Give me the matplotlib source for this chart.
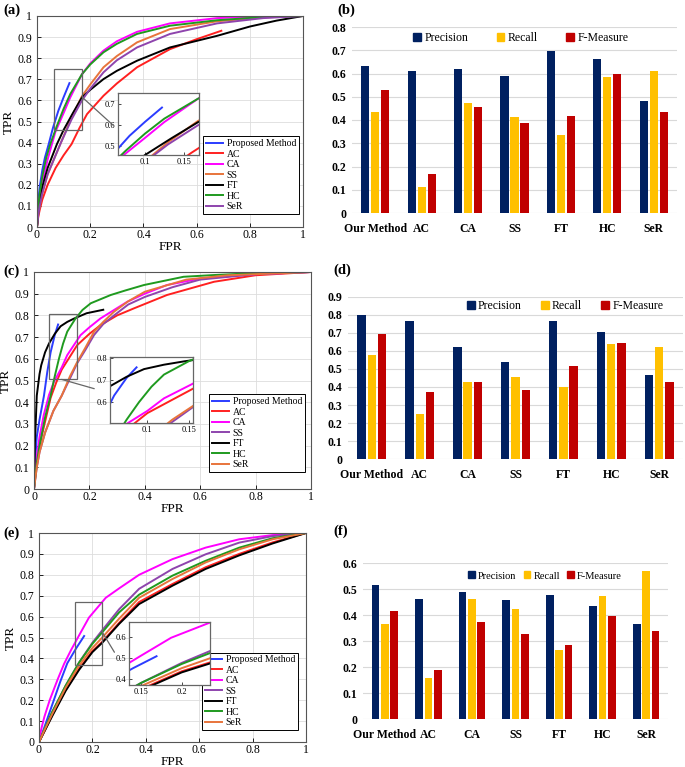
import matplotlib.pyplot as plt
from matplotlib.patches import Rectangle, Patch, ConnectionPatch

plt.rcParams['font.family'] = ['Liberation Serif', 'DejaVu Serif']

# ---------------- ROC data (fpr, tpr) ----------------
roc_names = ['Proposed Method', 'AC', 'CA', 'SS', 'FT', 'HC', 'SeR']

# (a)
a_prop = [(0, 0), (0.005, 0.12), (0.01, 0.19), (0.02, 0.27), (0.03, 0.33), (0.044, 0.393),
          (0.06, 0.47), (0.08, 0.55), (0.1, 0.615), (0.122, 0.682)]
a_ac = [(0, 0), (0.005, 0.05), (0.01, 0.08), (0.02, 0.13), (0.04, 0.2), (0.07, 0.28), (0.1, 0.34),
        (0.13, 0.393), (0.16, 0.47), (0.188, 0.535), (0.25, 0.622), (0.3, 0.68), (0.376, 0.757),
        (0.5, 0.843), (0.6, 0.89), (0.693, 0.93)]
a_ca = [(0, 0), (0.005, 0.09), (0.01, 0.14), (0.02, 0.21), (0.04, 0.32), (0.069, 0.45), (0.1, 0.54),
        (0.125, 0.614), (0.169, 0.724), (0.2, 0.775), (0.25, 0.836), (0.3, 0.88), (0.376, 0.925),
        (0.5, 0.965), (0.677, 0.99), (0.85, 0.998), (1, 1)]
a_ss = [(0, 0), (0.005, 0.06), (0.01, 0.1), (0.02, 0.16), (0.04, 0.25), (0.07, 0.34), (0.09, 0.4),
        (0.13, 0.52), (0.169, 0.62), (0.2, 0.675), (0.25, 0.757), (0.3, 0.81), (0.376, 0.875),
        (0.5, 0.938), (0.677, 0.975), (0.85, 0.993), (1, 1)]
a_ft = [(0, 0), (0.005, 0.07), (0.01, 0.12), (0.02, 0.19), (0.04, 0.28), (0.075, 0.393), (0.1, 0.46),
        (0.135, 0.54), (0.169, 0.614), (0.2, 0.65), (0.25, 0.701), (0.3, 0.74), (0.376, 0.788),
        (0.5, 0.851), (0.677, 0.906), (0.8, 0.95), (0.9, 0.978), (1, 1)]
a_hc = [(0, 0), (0.005, 0.1), (0.01, 0.16), (0.02, 0.24), (0.035, 0.33), (0.05, 0.393), (0.075, 0.48),
        (0.1, 0.56), (0.125, 0.63), (0.169, 0.724), (0.2, 0.77), (0.25, 0.828), (0.3, 0.868),
        (0.376, 0.915), (0.5, 0.954), (0.677, 0.98), (0.85, 0.995), (1, 1)]
a_ser = [(0, 0), (0.005, 0.06), (0.01, 0.1), (0.02, 0.16), (0.04, 0.25), (0.07, 0.34), (0.09, 0.4),
         (0.13, 0.51), (0.169, 0.6), (0.2, 0.655), (0.25, 0.733), (0.3, 0.79), (0.376, 0.851),
         (0.5, 0.915), (0.677, 0.965), (0.85, 0.99), (1, 1)]

# (c)
c_prop = [(0, 0), (0.005, 0.15), (0.01, 0.24), (0.02, 0.32), (0.036, 0.43), (0.048, 0.54),
          (0.06, 0.63), (0.075, 0.71), (0.087, 0.758)]
c_ac = [(0, 0), (0.01, 0.13), (0.02, 0.2), (0.04, 0.31), (0.06, 0.42), (0.08, 0.49), (0.1, 0.55),
        (0.156, 0.663), (0.2, 0.715), (0.24, 0.755), (0.3, 0.8), (0.36, 0.832), (0.48, 0.894),
        (0.65, 0.955), (0.8, 0.985), (1, 1)]
c_ca = [(0, 0), (0.01, 0.15), (0.02, 0.24), (0.035, 0.34), (0.054, 0.433), (0.072, 0.494),
        (0.1, 0.56), (0.12, 0.617), (0.168, 0.709), (0.2, 0.745), (0.24, 0.786), (0.337, 0.863),
        (0.4, 0.9), (0.48, 0.94), (0.6, 0.97), (0.8, 0.99), (1, 1)]
c_ss = [(0, 0), (0.01, 0.1), (0.02, 0.17), (0.04, 0.26), (0.07, 0.36), (0.1, 0.43), (0.13, 0.51),
        (0.156, 0.58), (0.185, 0.64), (0.217, 0.71), (0.25, 0.76), (0.289, 0.8), (0.34, 0.85),
        (0.4, 0.885), (0.5, 0.93), (0.6, 0.965), (0.8, 0.99), (1, 1)]
c_ft = [(0, 0), (0.003, 0.2), (0.01, 0.43), (0.02, 0.53), (0.026, 0.57), (0.04, 0.63), (0.054, 0.67),
        (0.075, 0.715), (0.096, 0.75), (0.12, 0.77), (0.144, 0.785), (0.19, 0.81), (0.25, 0.826)]
c_hc = [(0, 0), (0.01, 0.12), (0.02, 0.2), (0.04, 0.33), (0.06, 0.43), (0.075, 0.52), (0.09, 0.6),
        (0.105, 0.67), (0.12, 0.725), (0.15, 0.786), (0.175, 0.825), (0.205, 0.856), (0.277, 0.894),
        (0.33, 0.915), (0.397, 0.94), (0.54, 0.978), (0.65, 0.986), (0.8, 0.995), (1, 1)]
c_ser = [(0, 0), (0.01, 0.1), (0.02, 0.17), (0.04, 0.26), (0.07, 0.36), (0.1, 0.43), (0.13, 0.52),
         (0.156, 0.585), (0.185, 0.65), (0.217, 0.725), (0.25, 0.77), (0.289, 0.817), (0.34, 0.865),
         (0.4, 0.909), (0.55, 0.965), (0.7, 0.985), (1, 1)]

# (e)
e_prop = [(0, 0), (0.02, 0.07), (0.05, 0.18), (0.08, 0.29), (0.106, 0.377), (0.14, 0.45), (0.169, 0.507)]
e_ac = [(0, 0), (0.02, 0.05), (0.05, 0.13), (0.1, 0.25), (0.15, 0.35), (0.2, 0.435), (0.237, 0.48),
        (0.3, 0.57), (0.375, 0.67), (0.5, 0.756), (0.624, 0.836), (0.75, 0.9), (0.875, 0.955), (1, 1)]
e_ca = [(0, 0), (0.005, 0.04), (0.01, 0.07), (0.02, 0.12), (0.04, 0.2), (0.07, 0.3), (0.094, 0.374),
        (0.12, 0.44), (0.15, 0.51), (0.187, 0.595), (0.25, 0.69), (0.3, 0.735), (0.375, 0.8),
        (0.5, 0.875), (0.624, 0.93), (0.75, 0.97), (0.875, 0.99), (1, 1)]
e_ss = [(0, 0), (0.02, 0.06), (0.05, 0.145), (0.1, 0.27), (0.15, 0.38), (0.2, 0.475), (0.237, 0.535),
        (0.3, 0.635), (0.375, 0.733), (0.5, 0.828), (0.624, 0.898), (0.75, 0.954), (0.875, 0.985), (1, 1)]
e_ft = [(0, 0), (0.02, 0.05), (0.05, 0.125), (0.1, 0.245), (0.15, 0.345), (0.2, 0.43), (0.237, 0.475),
        (0.3, 0.565), (0.375, 0.66), (0.5, 0.748), (0.624, 0.828), (0.75, 0.893), (0.875, 0.95), (1, 1)]
e_hc = [(0, 0), (0.02, 0.06), (0.05, 0.145), (0.1, 0.27), (0.15, 0.38), (0.2, 0.47), (0.237, 0.525),
        (0.3, 0.62), (0.375, 0.705), (0.5, 0.796), (0.624, 0.867), (0.75, 0.93), (0.875, 0.975), (1, 1)]
e_ser = [(0, 0), (0.02, 0.055), (0.05, 0.135), (0.1, 0.26), (0.15, 0.365), (0.2, 0.45), (0.237, 0.5),
         (0.3, 0.59), (0.375, 0.69), (0.5, 0.78), (0.624, 0.859), (0.75, 0.922), (0.875, 0.97), (1, 1)]

# ---------------- bar data ----------------
bar_groups = ['Our Method', 'AC', 'CA', 'SS', 'FT', 'HC', 'SeR']
b_precision = [0.631, 0.611, 0.621, 0.590, 0.696, 0.664, 0.480]
b_recall = [0.436, 0.111, 0.474, 0.411, 0.336, 0.584, 0.610]
b_fmeasure = [0.527, 0.167, 0.454, 0.387, 0.419, 0.596, 0.436]

d_precision = [0.799, 0.766, 0.620, 0.541, 0.766, 0.705, 0.467]
d_recall = [0.578, 0.249, 0.426, 0.458, 0.402, 0.637, 0.624]
d_fmeasure = [0.697, 0.375, 0.426, 0.382, 0.518, 0.642, 0.430]

f_precision = [0.515, 0.463, 0.487, 0.459, 0.478, 0.436, 0.367]
f_recall = [0.365, 0.159, 0.463, 0.423, 0.264, 0.472, 0.568]
f_fmeasure = [0.417, 0.188, 0.372, 0.327, 0.285, 0.395, 0.340]

BLUE, RED, MAG, ORANGE, PURPLE, BLACK, GREEN = '#2b3cff', '#ff2020', '#ff00ff', '#e8743b', '#8e44ad', 'black', '#1f9a1f'
NAVY, GOLD, DRED = '#002060', '#ffc000', '#c00000'

W, H = 685, 767
fig = plt.figure(figsize=(W / 100, H / 100), dpi=100)


def px_axes(x0, y0, x1, y1):
    # pixel box (top-left origin) -> figure fraction rect
    return [x0 / W, 1 - y1 / H, (x1 - x0) / W, (y1 - y0) / H]


def fmt(v):
    return f'{v:g}'


def roc_panel(box, curves, colors, zoom_x, zoom_y, inset_box, inset_xt, inset_yt,
              conn_a, conn_b, leg_anchor):
    ax = fig.add_axes(px_axes(*box))
    for name, pts, col in zip(roc_names, curves, colors):
        xs = [p[0] for p in pts]
        ys = [p[1] for p in pts]
        ax.plot(xs, ys, color=col, lw=1.4, label=name)
    ax.set_xlim(0, 1)
    ax.set_ylim(0, 1)
    xt = [0, 0.2, 0.4, 0.6, 0.8, 1]
    yt = [i / 10 for i in range(11)]
    ax.set_xticks(xt, [fmt(v) for v in xt])
    ax.set_yticks(yt, [fmt(v) for v in yt])
    ax.tick_params(direction='in', labelsize=8.5, length=3, width=0.6)
    ax.tick_params(axis='x', pad=1.5)
    ax.grid(True, color='#dddddd', lw=0.6)
    for s in ax.spines.values():
        s.set_color('#555555')
        s.set_linewidth(0.8)
    ax.set_xlabel('FPR', fontsize=9.5, labelpad=0)
    ax.set_ylabel('TPR', fontsize=9.5, labelpad=2)
    ax.add_patch(Rectangle((zoom_x[0], zoom_y[0]), zoom_x[1] - zoom_x[0], zoom_y[1] - zoom_y[0],
                           fill=False, ec='#666666', lw=0.9, zorder=5))
    leg = ax.legend(loc='lower right', bbox_to_anchor=leg_anchor, fontsize=7, frameon=True,
                    fancybox=False, framealpha=1, edgecolor='black', handlelength=1.7,
                    handletextpad=0.4, labelspacing=0.15, borderpad=0.3, borderaxespad=0)
    leg.get_frame().set_linewidth(0.7)

    ins = fig.add_axes(px_axes(*inset_box))
    for pts, col in zip(curves, colors):
        ins.plot([p[0] for p in pts], [p[1] for p in pts], color=col, lw=1.4)
    ins.set_xlim(*zoom_x)
    ins.set_ylim(*zoom_y)
    ins.set_xticks(inset_xt, [fmt(v) for v in inset_xt])
    ins.set_yticks(inset_yt, [fmt(v) for v in inset_yt])
    ins.tick_params(direction='in', labelsize=6, length=2, width=0.5, pad=2)
    for s in ins.spines.values():
        s.set_color('#666666')
        s.set_linewidth(0.9)
    con = ConnectionPatch(xyA=conn_a, coordsA=ax.transData, xyB=conn_b, coordsB=ins.transAxes,
                          color='#666666', lw=0.9)
    fig.add_artist(con)
    return ax


def bar_panel(box, ymax, prec, rec, fm, leg_center, leg_fs, colspace):
    ax = fig.add_axes(px_axes(*box))
    x = range(len(bar_groups))
    w, off = 0.175, 0.215
    ax.bar([i - off for i in x], prec, w, color=NAVY, label='Precision', zorder=3)
    ax.bar(list(x), rec, w, color=GOLD, label='Recall', zorder=3)
    ax.bar([i + off for i in x], fm, w, color=DRED, label='F-Measure', zorder=3)
    ax.set_xlim(-0.5, len(bar_groups) - 0.5)
    ax.set_ylim(0, ymax)
    yt = [i / 10 for i in range(int(round(ymax * 10)) + 1)]
    ax.set_yticks(yt, [fmt(v) for v in yt], fontweight='bold')
    ax.set_xticks(list(x), bar_groups, fontweight='bold')
    ax.tick_params(length=0, labelsize=8.5)
    ax.tick_params(axis='x', pad=7)
    ax.tick_params(axis='y', pad=4)
    ax.yaxis.grid(True, color='#d9d9d9', lw=0.8)
    ax.set_axisbelow(True)
    for s in ax.spines.values():
        s.set_visible(False)
    handles = [Patch(color=NAVY), Patch(color=GOLD), Patch(color=DRED)]
    ax.legend(handles, ['Precision', 'Recall', 'F-Measure'], loc='center', bbox_to_anchor=leg_center,
              ncol=3, frameon=False, fontsize=leg_fs, handlelength=0.65, handleheight=0.65,
              handletextpad=0.3, columnspacing=colspace, borderaxespad=0)
    return ax


# (a)
roc_panel((37, 16, 303, 227), [a_prop, a_ac, a_ca, a_ss, a_ft, a_hc, a_ser],
          [BLUE, RED, MAG, ORANGE, BLACK, GREEN, PURPLE],
          (0.065, 0.17), (0.46, 0.75), (118, 93, 199, 155), [0.1, 0.15], [0.5, 0.6, 0.7],
          (0.17, 0.615), (-0.06, 0.48), (0.985, 0.062))
# (c)
roc_panel((34, 272, 311, 489), [c_prop, c_ac, c_ca, c_ss, c_ft, c_hc, c_ser],
          [BLUE, RED, MAG, PURPLE, BLACK, GREEN, ORANGE],
          (0.055, 0.155), (0.505, 0.805), (110, 357, 193, 423), [0.1, 0.15], [0.6, 0.7, 0.8],
          (0.1, 0.505), (-0.19, 0.52), (0.978, 0.078))
# (e)
roc_panel((39, 533, 306, 742), [e_prop, e_ac, e_ca, e_ss, e_ft, e_hc, e_ser],
          [BLUE, RED, MAG, PURPLE, BLACK, GREEN, ORANGE],
          (0.135, 0.235), (0.37, 0.67), (129, 622, 210, 685), [0.15, 0.2], [0.4, 0.5, 0.6],
          (0.235, 0.53), (-0.18, 0.52), (0.97, 0.057))

bar_panel((352, 27, 677, 213), 0.8, b_precision, b_recall, b_fmeasure, (0.52, 0.94), 8.5, 2.4)
bar_panel((348, 297, 683, 459), 0.9, d_precision, d_recall, d_fmeasure, (0.648, 0.944), 8.5, 1.6)
bar_panel((363, 563, 668, 719), 0.6, f_precision, f_recall, f_fmeasure, (0.597, 0.917), 7.5, 0.7)

for lab, (x, y) in zip(['(a)', '(b)', '(c)', '(d)', '(e)', '(f)'],
                       [(3, 10), (337, 10), (3, 271), (333, 270), (3, 533), (333, 531)]):
    fig.text(x / W, 1 - y / H, lab, fontsize=10.5, fontweight='bold', va='center', ha='left')

fig.savefig('out.png', dpi=100)
